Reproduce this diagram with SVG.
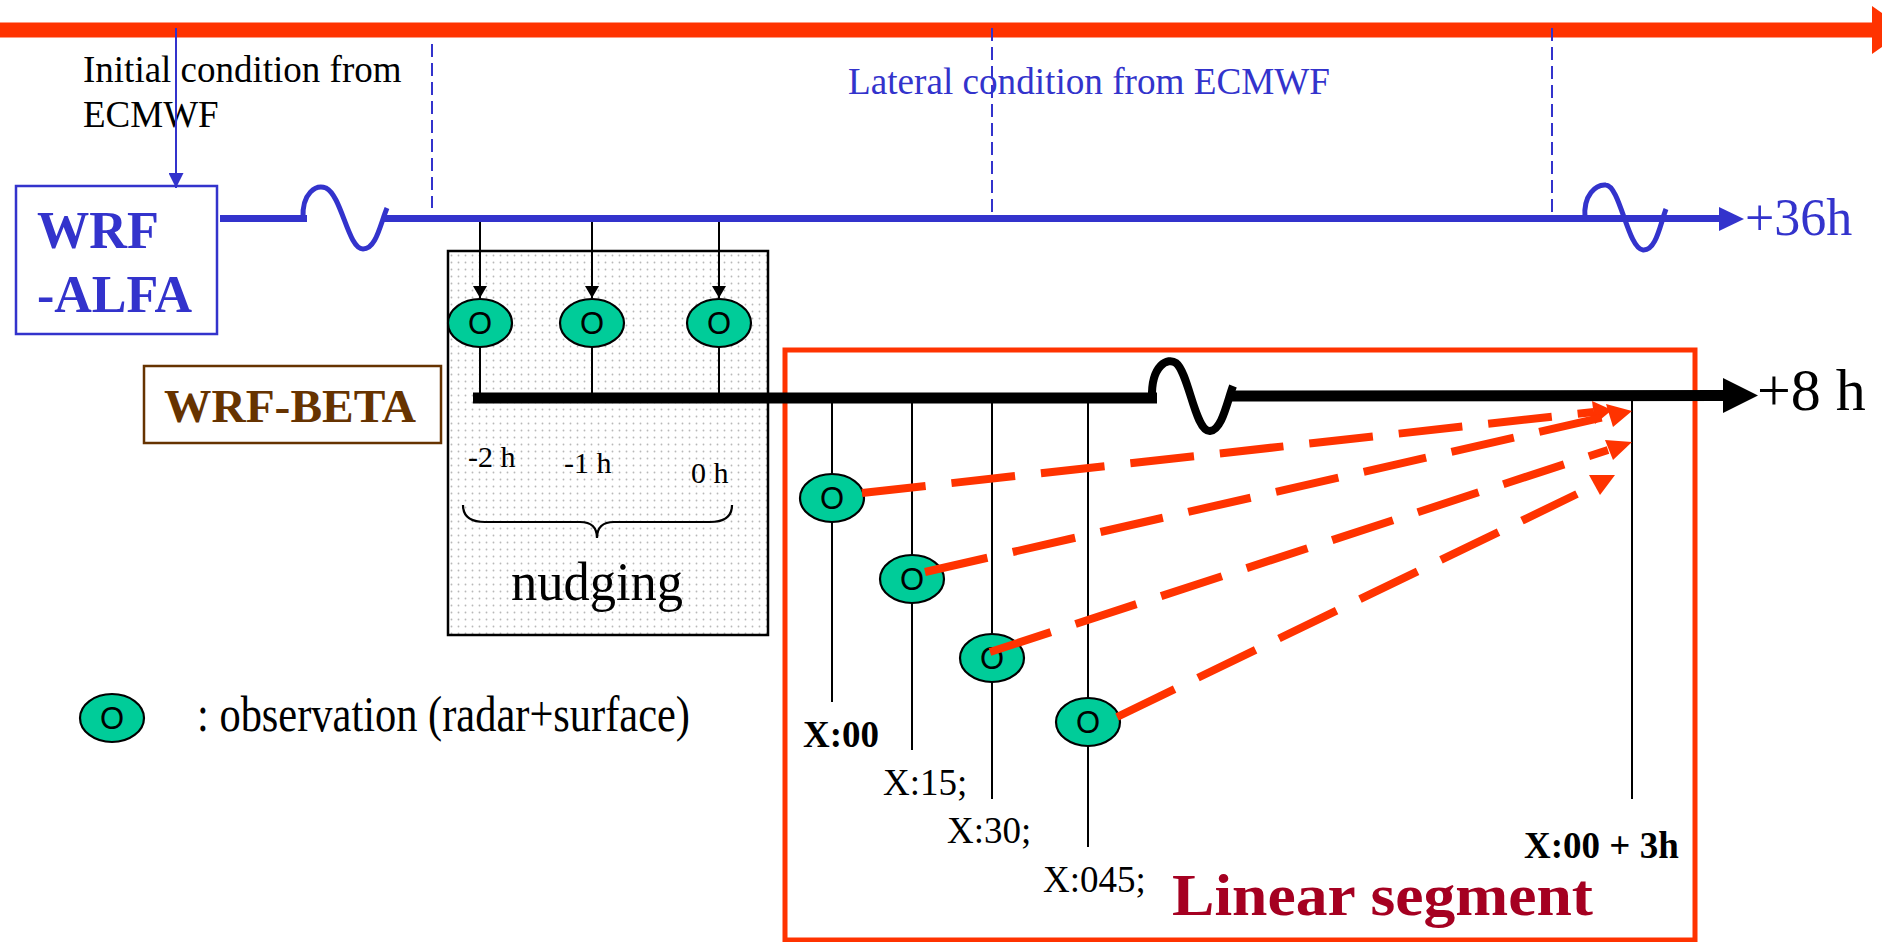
<svg xmlns="http://www.w3.org/2000/svg" width="1882" height="942" viewBox="0 0 1882 942">
<defs>
<pattern id="dots" width="7" height="7" patternUnits="userSpaceOnUse">
<rect width="7" height="7" fill="#ffffff"/>
<circle cx="3.5" cy="3.5" r="0.9" fill="#b8b8b8"/>
</pattern>
<marker id="blk" viewBox="0 0 12 14" refX="12" refY="7" markerWidth="12" markerHeight="14" markerUnits="userSpaceOnUse" orient="auto">
<path d="M0,0 L12,7 L0,14 Z" fill="#000"/>
</marker>
<marker id="blu" viewBox="0 0 15 15" refX="15" refY="7.5" markerWidth="15" markerHeight="15" markerUnits="userSpaceOnUse" orient="auto">
<path d="M0,0 L15,7.5 L0,15 Z" fill="#3333CC"/>
</marker>
</defs>
<style>
.serif{font-family:"Liberation Serif","Times New Roman",serif}
.sans{font-family:"Liberation Sans",Arial,sans-serif}
.obs{fill:#00CC99;stroke:#000;stroke-width:2.2}
.obsT{font-family:"Liberation Sans",Arial,sans-serif;font-size:31px;text-anchor:middle;fill:#000}
.vl{stroke:#000;stroke-width:2;fill:none}
.bdash{stroke:#3333CC;stroke-width:2;stroke-dasharray:13 6;fill:none}
.rdash{stroke:#FF3300;stroke-width:8;stroke-dasharray:64 26;fill:none}
.rhead{fill:#FF3300}
.xl{font-family:"Liberation Serif","Times New Roman",serif;font-size:37px;fill:#000}
</style>
<rect width="1882" height="942" fill="#ffffff"/>

<g id="linear-segment-box">
<rect x="785" y="350" width="910" height="590" fill="none" stroke="#FF3300" stroke-width="5"/>
<text x="1172" y="915" class="serif" font-size="60" font-weight="bold" fill="#A50021" textLength="421" lengthAdjust="spacingAndGlyphs">Linear segment</text>
</g>

<g id="nudging-box">
<rect x="448" y="251" width="320" height="384" fill="url(#dots)" stroke="#000" stroke-width="2.5"/>
<text x="468" y="467" class="serif" font-size="30">-2 h</text>
<text x="564" y="473" class="serif" font-size="30">-1 h</text>
<text x="691" y="483" class="serif" font-size="30">0 h</text>
<path d="M463,505 Q463,522 485,522 L580,522 Q597,522 597,538 Q597,522 614,522 L710,522 Q732,522 732,505" fill="none" stroke="#000" stroke-width="2.2"/>
<text x="597" y="600" class="serif" font-size="54" text-anchor="middle" textLength="172" lengthAdjust="spacingAndGlyphs">nudging</text>
</g>

<g id="top-timeline">
<rect x="0" y="22.5" width="1874" height="15" fill="#FF3300"/>
<polygon points="1872,6 1872,54 1906,30" fill="#FF3300"/>
</g>

<g id="initial-label">
<text x="83" y="82" class="serif" font-size="37" fill="#000">Initial condition from</text>
<text x="83" y="127" class="serif" font-size="37" fill="#000">ECMWF</text>
</g>

<g id="lateral-label">
<text x="848" y="94" class="serif" font-size="37" fill="#3333CC" textLength="482" lengthAdjust="spacingAndGlyphs">Lateral condition from ECMWF</text>
</g>

<g id="wrf-alfa">
<rect x="16" y="186" width="201" height="148" fill="#ffffff" stroke="#3333CC" stroke-width="2.5"/>
<text x="37" y="248" class="serif" font-size="53" font-weight="bold" fill="#3333CC" textLength="122" lengthAdjust="spacingAndGlyphs">WRF</text>
<text x="37" y="312" class="serif" font-size="53" font-weight="bold" fill="#3333CC" textLength="155" lengthAdjust="spacingAndGlyphs">-ALFA</text>
</g>

<g id="wrf-alfa-timeline">
<path d="M220,218.5 L307,218.5" stroke="#3333CC" stroke-width="7" fill="none"/>
<path d="M303,218 C302,193 316,184 326,188 C342,196 348,249 363,249 C376,249 380,225 387,208" stroke="#3333CC" stroke-width="5" fill="none"/>
<path d="M384,218.5 L1721,218.5" stroke="#3333CC" stroke-width="7" fill="none"/>
<polygon points="1719,207 1719,231 1744,219" fill="#3333CC"/>
<path d="M1585,218 C1583,195 1596,184 1606,185 C1620,186 1628,249 1643,250 C1656,251 1660,225 1666,209" stroke="#3333CC" stroke-width="5" fill="none"/>
<text x="1745" y="235" class="serif" font-size="52" fill="#3333CC">+36h</text>
</g>

<g id="wrf-beta">
<rect x="144" y="366" width="297" height="77" fill="#ffffff" stroke="#663300" stroke-width="2.5"/>
<text x="164" y="422" class="serif" font-size="47" font-weight="bold" fill="#663300" textLength="252" lengthAdjust="spacingAndGlyphs">WRF-BETA</text>
</g>

<g id="observation-ticks">
<line x1="480" y1="347" x2="480" y2="397" class="vl"/>
<line x1="592" y1="347" x2="592" y2="397" class="vl"/>
<line x1="719" y1="347" x2="719" y2="397" class="vl"/>
<line x1="832" y1="397" x2="832" y2="702" class="vl"/>
<line x1="912" y1="397" x2="912" y2="750" class="vl"/>
<line x1="992" y1="397" x2="992" y2="799" class="vl"/>
<line x1="1088" y1="397" x2="1088" y2="847" class="vl"/>
<line x1="1632" y1="396" x2="1632" y2="799" class="vl"/>
</g>

<g id="wrf-beta-timeline">
<path d="M473,398 L1157,398" stroke="#000" stroke-width="11" fill="none"/>
<path d="M1152,398 C1151,365 1168,357 1176,363 C1189,373 1195,432 1210,431 C1222,430 1227,402 1233,386" stroke="#000" stroke-width="8" fill="none"/>
<path d="M1228,396 L1725,395.5" stroke="#000" stroke-width="11" fill="none"/>
<polygon points="1723,378 1723,413 1758,395.5" fill="#000"/>
<text x="1757" y="410" class="serif" font-size="60" fill="#000">+8 h</text>
</g>

<g id="obs-nudge-1"><ellipse cx="480" cy="323" rx="32" ry="24" class="obs"/><text x="480" y="334" class="obsT">O</text></g>
<g id="obs-nudge-2"><ellipse cx="592" cy="323" rx="32" ry="24" class="obs"/><text x="592" y="334" class="obsT">O</text></g>
<g id="obs-nudge-3"><ellipse cx="719" cy="323" rx="32" ry="24" class="obs"/><text x="719" y="334" class="obsT">O</text></g>
<g id="obs-x00"><ellipse cx="832" cy="498" rx="32" ry="24" class="obs"/><text x="832" y="509" class="obsT">O</text></g>
<g id="obs-x15"><ellipse cx="912" cy="579" rx="32" ry="24" class="obs"/><text x="912" y="590" class="obsT">O</text></g>
<g id="obs-x30"><ellipse cx="992" cy="658" rx="32" ry="24" class="obs"/><text x="992" y="669" class="obsT">O</text></g>
<g id="obs-x45"><ellipse cx="1088" cy="722" rx="32" ry="24" class="obs"/><text x="1088" y="733" class="obsT">O</text></g>

<g id="time-labels">
<text x="803" y="747" class="xl" font-size="36" font-weight="bold">X:00</text>
<text x="883" y="795" class="xl">X:15;</text>
<text x="947" y="843" class="xl">X:30;</text>
<text x="1043" y="892" class="xl">X:045;</text>
<text x="1524" y="858" class="xl" font-size="36" font-weight="bold">X:00 + 3h</text>
</g>

<g id="legend">
<ellipse cx="112" cy="718" rx="32" ry="24" class="obs"/><text x="112" y="729" class="obsT">O</text>
<text x="197" y="731" class="serif" font-size="50" fill="#000" textLength="493" lengthAdjust="spacingAndGlyphs">: observation (radar+surface)</text>
</g>

<g id="connectors">
<line x1="176" y1="28" x2="176" y2="188" stroke="#3333CC" stroke-width="2" marker-end="url(#blu)"/>
<line x1="432" y1="44" x2="432" y2="208" class="bdash"/>
<line x1="992" y1="28" x2="992" y2="214" class="bdash"/>
<line x1="1552" y1="28" x2="1552" y2="216" class="bdash"/>
<line x1="480" y1="222" x2="480" y2="298" class="vl" marker-end="url(#blk)"/>
<line x1="592" y1="222" x2="592" y2="298" class="vl" marker-end="url(#blk)"/>
<line x1="719" y1="222" x2="719" y2="298" class="vl" marker-end="url(#blk)"/>
<line x1="862" y1="493" x2="1594" y2="412" class="rdash"/>
<polygon points="1592,401 1595,424 1612,410" class="rhead"/>
<line x1="925" y1="572" x2="1609" y2="416" class="rdash"/>
<polygon points="1606,404 1613,427 1632,411" class="rhead"/>
<line x1="990" y1="652" x2="1608" y2="450" class="rdash"/>
<polygon points="1605,440 1613,460 1632,442" class="rhead"/>
<line x1="1117" y1="717" x2="1577" y2="494" class="rdash"/>
<polygon points="1589,475 1615,475 1600,495" class="rhead"/>
</g>
</svg>
